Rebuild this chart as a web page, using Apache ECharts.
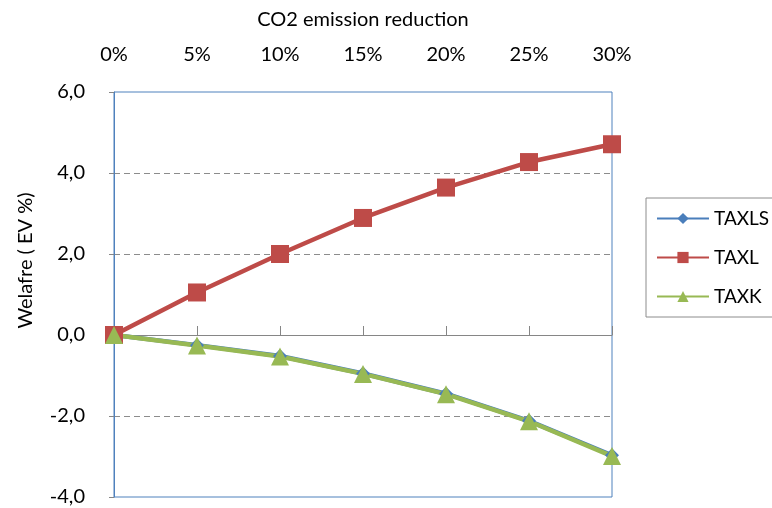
<!DOCTYPE html>
<html>
<head>
<meta charset="utf-8">
<script src="https://cdn.jsdelivr.net/npm/echarts@6/dist/echarts.min.js"></script>
<style>
  html, body { margin: 0; padding: 0; background: #fff; }
  #chart { width: 772px; height: 508px; }
</style>
</head>
<body>
<div id="chart"></div>
<script>
var categories = ["0%", "5%", "10%", "15%", "20%", "25%", "30%"];
var taxls = [0, -0.25, -0.52, -0.95, -1.45, -2.12, -2.97];
var taxl = [0, 1.05, 2.0, 2.89, 3.64, 4.27, 4.71];
var taxk = [0, -0.26, -0.53, -0.96, -1.46, -2.13, -2.99];

var fontFamily = "Lato, 'Open Sans', sans-serif";

var chart = echarts.init(document.getElementById("chart"));

var option = {
  animation: false,
  textStyle: { fontFamily: fontFamily },
  grid: {
    show: true,
    left: 114,
    right: 160,
    top: 92,
    bottom: 11,
    borderColor: "#4F81BD",
    borderWidth: 1,
    backgroundColor: "transparent"
  },
  legend: {
    orient: "vertical",
    left: 646,
    top: 198,
    padding: [10, 6, 10, 10],
    itemGap: 18,
    itemWidth: 52,
    itemHeight: 14,
    borderColor: "#8c8c8c",
    borderWidth: 1,
    textStyle: { color: "#000", fontSize: 19, lineHeight: 21, fontFamily: fontFamily },
    data: ["TAXLS", "TAXL", "TAXK"]
  },
  xAxis: [
    {
      type: "category",
      position: "top",
      boundaryGap: false,
      data: categories,
      name: "CO2 emission reduction",
      nameLocation: "middle",
      nameGap: 62,
      nameTextStyle: { color: "#000", fontSize: 20, fontFamily: fontFamily },
      axisLine: { show: false, onZero: false },
      axisTick: { show: false },
      axisLabel: { color: "#000", fontSize: 20, margin: 27, fontFamily: fontFamily },
      splitLine: { show: false }
    },
    {
      type: "category",
      position: "bottom",
      boundaryGap: false,
      data: categories,
      axisLine: { show: true, onZero: true, lineStyle: { color: "#868686", width: 1 } },
      axisTick: { show: true, inside: true, length: 9, lineStyle: { color: "#868686" } },
      axisLabel: { show: false },
      splitLine: { show: false }
    }
  ],
  yAxis: {
    type: "value",
    min: -4,
    max: 6,
    interval: 2,
    name: "Welafre ( EV %)",
    nameLocation: "middle",
    nameGap: 78,
    nameRotate: 90,
    nameTextStyle: { color: "#000", fontSize: 20, fontFamily: fontFamily, padding: [0, 0, 0, 68] },
    axisLine: { show: true, onZero: false, lineStyle: { color: "#4F81BD", width: 1 } },
    axisTick: { show: true, length: 5, lineStyle: { color: "#868686" } },
    axisLabel: {
      color: "#000",
      fontSize: 20,
      margin: 29,
      fontFamily: fontFamily,
      formatter: function (v) { return v.toFixed(1).replace(".", ","); }
    },
    splitLine: {
      show: true,
      lineStyle: {
        color: ["transparent", "#8c8c8c", "#8c8c8c", "#8c8c8c", "#8c8c8c", "transparent"],
        type: [6, 4],
        width: 1
      }
    }
  },
  series: [
    {
      name: "TAXLS",
      type: "line",
      xAxisIndex: 0,
      data: taxls,
      symbol: "diamond",
      symbolSize: 14,
      lineStyle: { color: "#4A7EBB", width: 4.5 },
      itemStyle: { color: "#4A7EBB" }
    },
    {
      name: "TAXL",
      type: "line",
      xAxisIndex: 0,
      data: taxl,
      symbol: "rect",
      symbolSize: 18,
      lineStyle: { color: "#BE4B48", width: 4.5 },
      itemStyle: { color: "#BE4B48" }
    },
    {
      name: "TAXK",
      type: "line",
      xAxisIndex: 0,
      data: taxk,
      symbol: "triangle",
      symbolSize: 18,
      lineStyle: { color: "#98B954", width: 4.5 },
      itemStyle: { color: "#98B954" }
    }
  ]
};

chart.setOption(option);
</script>
</body>
</html>
